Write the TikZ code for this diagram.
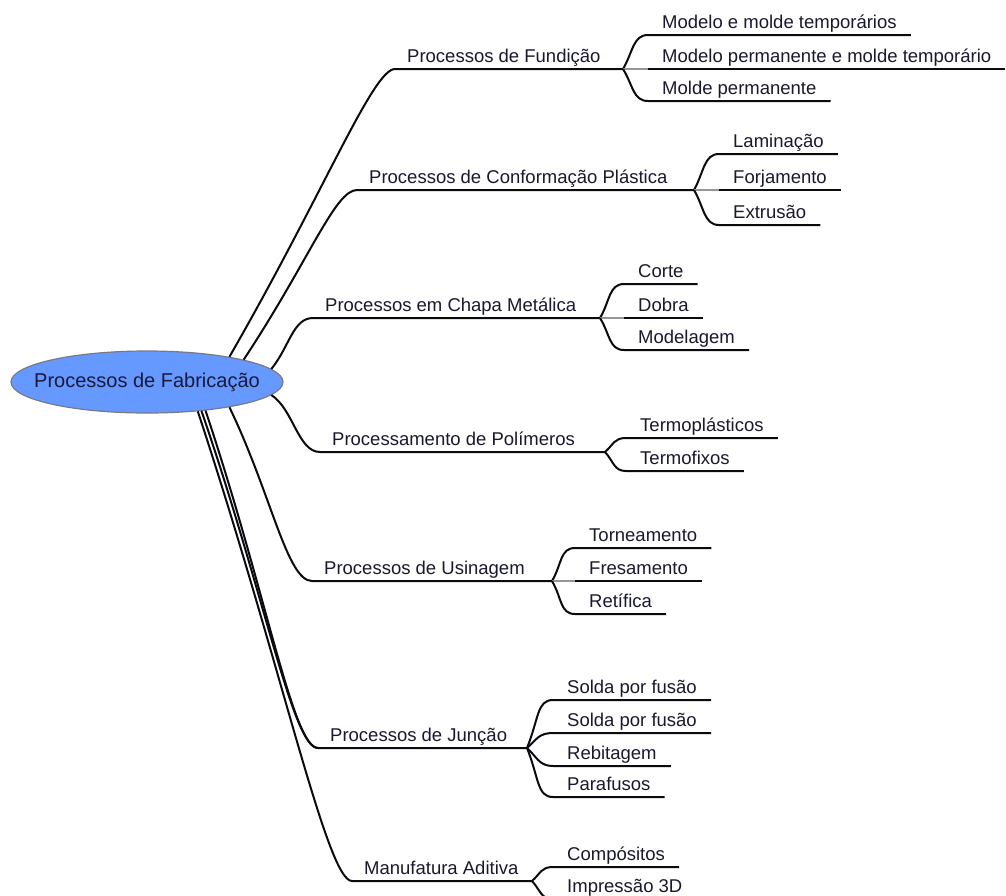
\documentclass[tikz,border=0pt]{standalone}
\usepackage{fontspec}
\setmainfont{Liberation Sans}
\usetikzlibrary{shapes.geometric}
\definecolor{linec}{RGB}{10,10,15}
\definecolor{stubc}{RGB}{150,150,150}
\definecolor{textc}{RGB}{25,25,45}
\definecolor{rootfill}{RGB}{102,153,255}
\definecolor{rootedge}{RGB}{120,120,135}
\definecolor{roottext}{RGB}{25,25,60}
\begin{document}
\begin{tikzpicture}[x=1pt,y=-1pt,
  conn/.style={draw=linec, line width=2pt},
  stub/.style={draw=stubc, line width=2pt},
  rootnode/.style={ellipse, draw=rootedge, line width=1.2pt, fill=rootfill,
    minimum width=272pt, minimum height=62pt, inner sep=0pt,
    text=roottext, font=\fontsize{20}{24}\selectfont},
  main/.style={anchor=south west, inner xsep=12pt, inner ysep=6.5pt,
    text depth=0pt, text=textc, font=\fontsize{18.5}{22}\selectfont},
  sub/.style={anchor=south west, inner xsep=14pt, inner ysep=6.5pt,
    text depth=0pt, text=textc, font=\fontsize{18.5}{22}\selectfont}]
\useasboundingbox (0,0) rectangle (1006,895);

% central topic: the text sits in a zero-width box so the ellipse keeps its set size
\node[rootnode] (root) at (147,382) {\makebox[0pt]{Processos de Fabricação}};

% ---------- Processos de Fundição ----------
\coordinate (cF) at (395,69);
\coordinate (jF) at (623,69);
\node[main] (tF) at (cF) {Processos de Fundição};
\draw[conn] (root.17) .. controls +(95,-165) and +(-22,0) .. (cF) -- (jF);
\node[sub] (sF1) at (648,35) {Modelo e molde temporários};
\node[sub] (sF2) at (648,69) {Modelo permanente e molde temporário};
\node[sub] (sF3) at (648,101) {Molde permanente};
\draw[conn] (jF) .. controls +(10,-17) and +(-15,0) .. (sF1.south west) -- (sF1.south east);
\draw[stub] (jF) -- (sF2.south west);
\draw[conn] (sF2.south west) -- (sF2.south east);
\draw[conn] (jF) .. controls +(10,16) and +(-15,0) .. (sF3.south west) -- (sF3.south east);

% ---------- Processos de Conformação Plástica ----------
\coordinate (cC) at (357,190);
\coordinate (jC) at (694,190);
\node[main] (tC) at (cC) {Processos de Conformação Plástica};
\draw[conn] (root.13) .. controls +(66,-100) and +(-22,0) .. (cC) -- (jC);
\node[sub] (sC1) at (719,154) {Laminação};
\node[sub] (sC2) at (719,190) {Forjamento};
\node[sub] (sC3) at (719,225) {Extrusão};
\draw[conn] (jC) .. controls +(10,-18) and +(-15,0) .. (sC1.south west) -- (sC1.south east);
\draw[stub] (jC) -- (sC2.south west);
\draw[conn] (sC2.south west) -- (sC2.south east);
\draw[conn] (jC) .. controls +(10,17) and +(-15,0) .. (sC3.south west) -- (sC3.south east);

% ---------- Processos em Chapa Metálica ----------
\coordinate (cCh) at (313,318);
\coordinate (jCh) at (600,318);
\node[main] (tCh) at (cCh) {Processos em Chapa Metálica};
\draw[conn] (root.6) .. controls +(18,-22) and +(-20,0) .. (cCh) -- (jCh);
\node[sub] (sCh1) at (624,284) {Corte};
\node[sub] (sCh2) at (624,318) {Dobra};
\node[sub] (sCh3) at (624,350) {Modelagem};
\draw[conn] (jCh) .. controls +(10,-17) and +(-15,0) .. (sCh1.south west) -- (sCh1.south east);
\draw[stub] (jCh) -- (sCh2.south west);
\draw[conn] (sCh2.south west) -- (sCh2.south east);
\draw[conn] (jCh) .. controls +(10,16) and +(-15,0) .. (sCh3.south west) -- (sCh3.south east);

% ---------- Processamento de Polímeros ----------
\coordinate (cP) at (320,452);
\coordinate (jP) at (605,452);
\node[main] (tP) at (cP) {Processamento de Polímeros};
\draw[conn] (root.-6) .. controls +(22,14) and +(-22,0) .. (cP) -- (jP);
\node[sub] (sP1) at (626,438) {Termoplásticos};
\node[sub] (sP2) at (626,471) {Termofixos};
\draw[conn] (jP) .. controls +(9,-8) and +(-12,0) .. (sP1.south west) -- (sP1.south east);
\draw[conn] (jP) .. controls +(9,10) and +(-12,0) .. (sP2.south west) -- (sP2.south east);

% ---------- Processos de Usinagem ----------
\coordinate (cU) at (312,581);
\coordinate (jU) at (552,581);
\node[main] (tU) at (cU) {Processos de Usinagem};
\draw[conn] (root.-17) .. controls +(42,87) and +(-25,0) .. (cU) -- (jU);
\node[sub] (sU1) at (575,548) {Torneamento};
\node[sub] (sU2) at (575,581) {Fresamento};
\node[sub] (sU3) at (575,614) {Retífica};
\draw[conn] (jU) .. controls +(10,-17) and +(-15,0) .. (sU1.south west) -- (sU1.south east);
\draw[stub] (jU) -- (sU2.south west);
\draw[conn] (sU2.south west) -- (sU2.south east);
\draw[conn] (jU) .. controls +(10,17) and +(-15,0) .. (sU3.south west) -- (sU3.south east);

% ---------- Processos de Junção ----------
\coordinate (cJ) at (318,748);
\coordinate (jJ) at (527,748);
\node[main] (tJ) at (cJ) {Processos de Junção};
\draw[conn] (root.-28) .. controls +(64,186) and +(-25,0) .. (cJ) -- (jJ);
\draw[conn] (root.-26) .. controls +(62,186) and +(-25,0) .. (cJ);
\node[sub] (sJ1) at (553,700) {Solda por fusão};
\node[sub] (sJ2) at (553,733) {Solda por fusão};
\node[sub] (sJ3) at (553,766) {Rebitagem};
\node[sub] (sJ4) at (553,797) {Parafusos};
\draw[conn] (jJ) .. controls +(12,-30) and +(-16,0) .. (sJ1.south west) -- (sJ1.south east);
\draw[conn] (jJ) .. controls +(10,-9) and +(-14,0) .. (sJ2.south west) -- (sJ2.south east);
\draw[conn] (jJ) .. controls +(10,9) and +(-14,0) .. (sJ3.south west) -- (sJ3.south east);
\draw[conn] (jJ) .. controls +(12,30) and +(-16,0) .. (sJ4.south west) -- (sJ4.south east);

% ---------- Manufatura Aditiva ----------
\coordinate (cM) at (352,881);
\coordinate (jM) at (532,881);
\node[main] (tM) at (cM) {Manufatura Aditiva};
\draw[conn] (root.-30) .. controls +(85,258) and +(-25,0) .. (cM) -- (jM);
\node[sub] (sM1) at (553,867) {Compósitos};
\node[sub] (sM2) at (553,899) {Impressão 3D};
\draw[conn] (jM) .. controls +(9,-8) and +(-12,0) .. (sM1.south west) -- (sM1.south east);
\draw[conn] (jM) .. controls +(9,10) and +(-12,0) .. (sM2.south west) -- (sM2.south east);
\end{tikzpicture}
\end{document}
